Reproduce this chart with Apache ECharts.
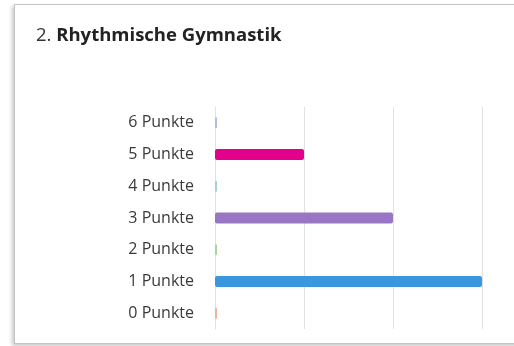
<!DOCTYPE html>
<html>
<head>
<meta charset="utf-8">
<script src="https://cdn.jsdelivr.net/npm/echarts@6/dist/echarts.min.js"></script>
<style>
  html, body { margin: 0; padding: 0; background: #fff; }
  #card {
    position: absolute; left: 14px; top: 4px; width: 520px; height: 338px;
    border: 1px solid #c4c4c4; background: #fff;
    box-shadow: -2px 2px 4px rgba(0,0,0,0.22);
  }
  #chart { position: absolute; left: 0; top: 0; width: 514px; height: 346px; }
</style>
</head>
<body>
<div id="card"></div>
<div id="chart"></div>
<script>
// Survey answers for question 2: number of responses per score
const categories = ['0 Punkte', '1 Punkte', '2 Punkte', '3 Punkte', '4 Punkte', '5 Punkte', '6 Punkte'];
const counts = [0, 3, 0, 2, 0, 1, 0];
const barColors = ['#eab39c', '#3a97dd', '#a6d69a', '#9876c4', '#9fd3da', '#e3008c', '#b3bde8'];
const xMax = 3;

const chart = echarts.init(document.getElementById('chart'), null, { renderer: 'canvas' });
chart.setOption({
  animation: false,
  title: {
    left: 31, top: 21,
    text: '{n|2. }{b|Rhythmische Gymnastik}',
    textStyle: {
      rich: {
        n: { fontFamily: 'Open Sans', fontSize: 18.5, color: '#333', fontWeight: 'normal' },
        b: { fontFamily: 'Open Sans', fontSize: 18.5, color: '#222', fontWeight: 'bold' }
      }
    }
  },
  grid: { left: 215, top: 107, width: 267, height: 222, containLabel: false },
  xAxis: {
    type: 'value', min: 0, max: xMax, interval: 1,
    axisLabel: { show: false },
    axisLine: { show: false },
    axisTick: { show: false },
    splitLine: { lineStyle: { color: '#e2e2e2', width: 1 } }
  },
  yAxis: {
    type: 'category', data: categories,
    axisLine: { show: true, lineStyle: { color: '#e2e2e2' } },
    axisTick: { show: false },
    axisLabel: { fontFamily: 'Open Sans', fontSize: 16, color: '#3a3a3a', margin: 21 }
  },
  series: [{
    type: 'bar',
    data: counts.map((v, i) => ({ value: v, itemStyle: { color: barColors[i] } })),
    barWidth: 11,
    barMinHeight: 2,
    itemStyle: { borderRadius: 2 }
  }]
});
</script>
</body>
</html>
